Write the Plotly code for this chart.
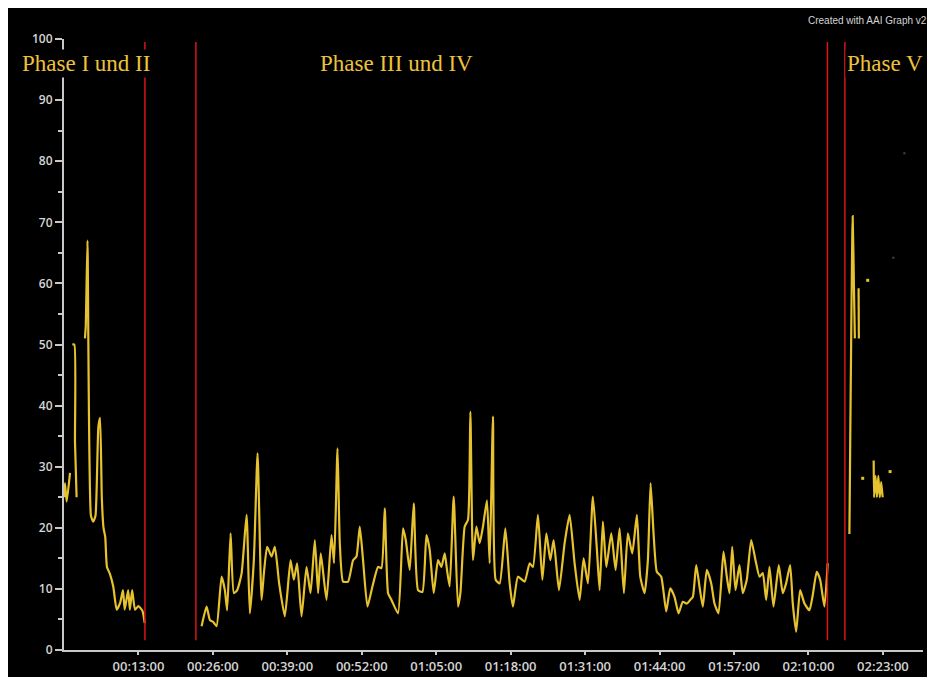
import plotly.graph_objects as go

# ---------------- data (minutes since start, value) ----------------
p12_t = [0.0, 0.17, 0.47, 1.05, None, 1.45, 1.8, 1.92, 2.2, None,
         3.66, 3.8, 4.1, 4.7, 5.1, 5.5, 6.0, 6.3, 6.6, 6.9, 7.2, 7.5, 8.0, 8.6,
         9.2, 9.8, 10.3, 10.6, 11.2, 11.5, 11.9, 12.4, 13.0, 13.7, 14.1]
p12_v = [25, 27.3, 24.3, 29, None, 50, 50, 34, 25, None,
         51, 53, 67, 22, 21, 22, 36.5, 38, 25, 20, 18.5, 13.6, 12.5, 10.4,
         6.6, 7.7, 9.8, 6.6, 9.8, 6.6, 9.8, 6.6, 7.2, 6.4, 4.4]

p34_t = [24.03, 24.90, 25.48, 26.05, 26.64, 27.52, 28.09, 28.49, 29.09, 29.66,
         30.24, 31.01, 31.88, 32.45, 33.15, 33.80, 34.50, 34.90, 35.47, 36.24,
         36.82, 37.57, 38.56, 39.56, 40.13, 40.71, 41.48, 42.35, 43.05, 43.80,
         44.37, 44.84, 45.84, 46.71, 47.16, 47.76, 48.16, 48.73, 49.61, 50.48,
         51.07, 51.65, 52.22, 52.99, 53.86, 54.84, 55.43, 56.01, 56.59, 57.18,
         58.33, 59.20, 59.68, 60.37, 61.07, 61.82, 62.59, 63.29, 63.86, 64.56,
         65.31, 65.90, 66.48, 66.88, 67.35, 68.05, 68.80, 69.22, 69.97, 70.55,
         70.96, 71.42, 72.01, 72.59, 73.16, 73.86, 74.33, 74.91, 75.38, 76.08,
         77.07, 77.82, 78.40, 79.27, 80.44, 81.31, 81.89, 82.76, 83.53, 84.23,
         84.92, 85.50, 86.43, 87.42, 88.29, 89.16, 90.04, 90.73, 91.49, 92.36,
         93.06, 93.53, 94.10, 94.70, 95.57, 96.32, 97.02, 97.77, 98.46, 99.23,
         100.04, 100.63, 101.38, 101.96, 102.43, 102.95, 103.52, 104.29, 105.16, 105.86,
         106.61, 107.31, 108.06, 108.76, 109.35, 109.81, 110.40, 110.97, 111.55, 112.25,
         113.02, 113.59, 114.29, 115.16, 115.74, 116.21, 116.68, 117.26, 117.95, 118.53,
         119.23, 120.00, 120.75, 121.45, 122.02, 122.61, 123.19, 123.89, 124.81, 125.51,
         126.10, 126.80, 127.26, 127.85, 128.55, 129.30, 130.17, 130.75, 131.44, 132.04,
         132.79, 133.36]
p34_v = [3.9, 7.1, 4.9, 4.6, 3.9, 12.0, 9.8, 6.5, 19.1, 9.3,
         9.8, 12.5, 22.1, 6.0, 14.7, 32.2, 8.2, 12.5, 16.9, 15.3,
         16.9, 10.9, 5.5, 14.7, 11.5, 14.2, 5.5, 13.6, 9.3, 18.0,
         9.3, 15.8, 8.2, 18.8, 14.2, 33.0, 17.5, 11.2, 11.2, 14.7,
         15.3, 20.2, 14.7, 7.1, 10.4, 13.6, 13.4, 23.2, 9.3, 8.2,
         6.0, 19.9, 18.0, 13.1, 24.0, 9.8, 9.5, 18.8, 16.4, 9.3,
         14.7, 13.6, 15.8, 13.1, 10.4, 25.1, 7.1, 9.3, 20.2, 21.3,
         39.0, 14.7, 20.2, 17.5, 20.2, 24.5, 14.2, 38.2, 11.5, 10.9,
         19.9, 10.9, 7.1, 12.0, 11.2, 14.2, 13.6, 22.1, 11.5, 19.1,
         14.7, 18.0, 9.8, 17.5, 22.1, 14.2, 8.2, 15.0, 10.9, 25.1,
         16.4, 9.8, 21.0, 13.6, 19.1, 13.1, 19.9, 9.3, 19.1, 15.8,
         22.1, 12.0, 9.3, 14.7, 27.3, 19.1, 12.8, 12.0, 6.3, 10.1,
         8.7, 6.0, 7.9, 7.6, 8.2, 8.7, 13.9, 10.4, 7.1, 13.1,
         10.9, 7.6, 6.0, 16.1, 12.0, 9.3, 16.9, 9.8, 13.9, 9.3,
         11.5, 18.0, 14.7, 12.0, 12.6, 8.2, 13.6, 7.1, 13.9, 9.3,
         10.9, 13.9, 7.6, 3.0, 9.8, 7.6, 6.5, 9.0, 12.8, 11.5,
         7.1, 14.2]

p5_t = [137.15, 137.72, 137.95, 138.1, None, 138.75, 138.8, None,
        141.39, 141.45, 141.7, 141.95, 142.2, 142.45, 142.7, 142.96]
p5_v = [19, 71, 59, 51, None, 59.2, 51, None,
        31, 25, 28.5, 25, 28.5, 25, 27.5, 25]

dots_t = [139.47, 140.34, 144.25]
dots_v = [28.1, 60.5, 29.2]
faint_t = [144.83, 146.74]
faint_v = [64.2, 81.3]

phase_bounds = [14.13, 23.03, 133.31, 136.36]
phase_labels = ["Phase I und II", "Phase III und IV", "Phase V"]

x_tick_vals = [13, 26, 39, 52, 65, 78, 91, 104, 117, 130, 143]
x_tick_text = ["00:13:00", "00:26:00", "00:39:00", "00:52:00", "01:05:00", "01:18:00",
               "01:31:00", "01:44:00", "01:57:00", "02:10:00", "02:23:00"]

# ---------------- figure ----------------
LINE = "#E6C22E"
AXIS = "#c8c8c8"
TXT = "#d4d4d4"
GOLD = "#EDC23C"

fig = go.Figure()
for t, v in [(p12_t, p12_v), (p34_t, p34_v), (p5_t, p5_v)]:
    fig.add_trace(go.Scatter(x=t, y=v, mode="lines", connectgaps=False,
                             line=dict(color=LINE, width=2.2, shape="spline", smoothing=0.5),
                             hoverinfo="skip"))
fig.add_trace(go.Scatter(x=dots_t, y=dots_v, mode="markers",
                         marker=dict(color=LINE, size=3, symbol="square")))
fig.add_trace(go.Scatter(x=faint_t, y=faint_v, mode="markers",
                         marker=dict(color="#4a4a3a", size=2, symbol="square")))

for b in phase_bounds:
    fig.add_shape(type="line", xref="x", yref="y", x0=b, x1=b, y0=1.6, y1=99.5,
                  line=dict(color="#D8141A", width=1.5))

# the page body adds an 8px offset; the figure fills the rest of the window
OFF = 8
W, H = 935 - OFF, 677 - OFF
L, R, T, B = 56, 12, 31, 27
pw, ph = W - L - R, H - T - B

def px(x):  # screenshot x -> paper
    return (x - OFF - L) / pw

def py(y):  # screenshot y -> paper
    return (H - B - (y - OFF)) / ph

label_pos = [(20, "left"), (396, "center"), (845, "left")]
for text, (xx, anch) in zip(phase_labels, label_pos):
    fig.add_annotation(text=text, xref="paper", yref="paper", x=px(xx), y=py(63),
                       xanchor=anch, yanchor="middle", showarrow=False,
                       bgcolor="black", borderpad=1,
                       font=dict(family="Liberation Serif", size=23, color=GOLD))

fig.add_annotation(text="Created with AAI Graph v2", xref="paper", yref="paper",
                   x=px(929), y=py(20), xanchor="right", yanchor="middle", showarrow=False,
                   font=dict(family="Liberation Sans", size=10, color=TXT))

fig.update_layout(
    width=W, height=H,
    margin=dict(l=L, r=R, t=T, b=B, autoexpand=False),
    paper_bgcolor="black", plot_bgcolor="black",
    showlegend=False,
    xaxis=dict(range=[0, 150], tickmode="array", tickvals=x_tick_vals, ticktext=x_tick_text,
               automargin=False,
               showgrid=False, zeroline=False, showline=True, linecolor=AXIS, linewidth=2,
               ticks="outside", ticklen=3, tickcolor=AXIS, tickwidth=2,
               tickfont=dict(family="Open Sans", size=13, color=TXT, weight=600)),
    yaxis=dict(range=[0, 100], tick0=0, dtick=10, automargin=False,
               showgrid=False, zeroline=False, showline=True, linecolor=AXIS, linewidth=2,
               ticks="outside", ticklen=7, tickcolor=AXIS, tickwidth=1.5,
               minor=dict(dtick=5, ticks="outside", ticklen=4, tickcolor=AXIS, showgrid=False),
               tickfont=dict(family="Open Sans", size=12, color=TXT, weight=600)),
)

fig.write_html("out.html")
